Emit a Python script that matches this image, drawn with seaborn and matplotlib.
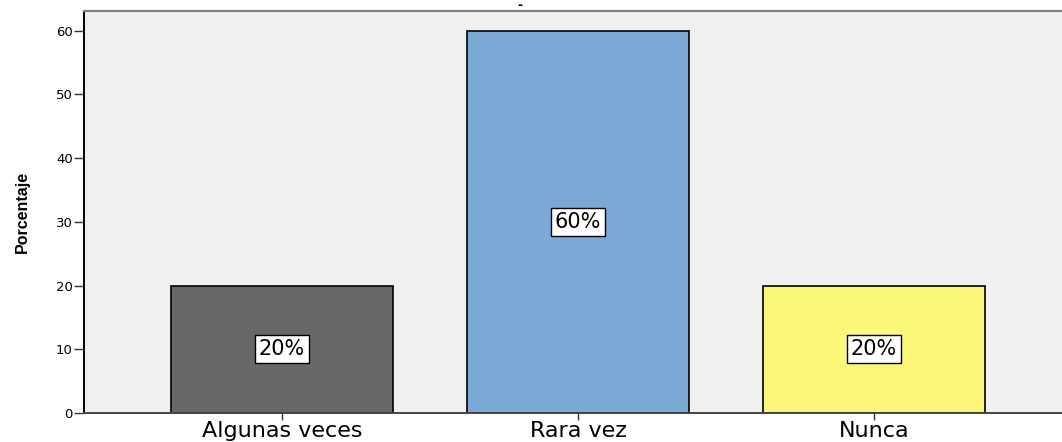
import matplotlib
matplotlib.use("Agg")
import matplotlib.pyplot as plt
import seaborn as sns
import pandas as pd

categories = ["Algunas veces", "Rara vez", "Nunca"]
percentages = [20, 60, 20]
bar_colors = ["#686868", "#7BA9D6", "#FBF778"]
y_ticks = [0, 10, 20, 30, 40, 50, 60]

df = pd.DataFrame({"categoria": categories, "porcentaje": percentages})

sns.set_style("white")
plt.rcParams["font.family"] = ["DejaVu Sans"]
plt.rcParams["text.color"] = "black"
plt.rcParams["axes.labelcolor"] = "black"
plt.rcParams["xtick.color"] = "black"
plt.rcParams["ytick.color"] = "black"

fig = plt.figure(figsize=(10.62, 4.42), dpi=100)
ax = fig.add_axes([84 / 1062, 29 / 442, 1 - 84 / 1062, 402 / 442])
ax.set_facecolor("#F0F0F0")

sns.barplot(data=df, x="categoria", y="porcentaje", hue="categoria",
            palette=bar_colors, order=categories, hue_order=categories,
            saturation=1, width=0.75, edgecolor="black", linewidth=1.2,
            legend=False, ax=ax)

for i, (cat, val) in enumerate(zip(categories, percentages)):
    ax.text(i, val / 2, f"{val}%", ha="center", va="center", fontsize=15,
            color="black",
            bbox=dict(boxstyle="square,pad=0.2", facecolor="white",
                      edgecolor="black", linewidth=1))

ax.set_xlim(-0.669, 2.635)
ax.set_ylim(0, 63.1)
ax.set_yticks(y_ticks)
ax.set_yticklabels([str(t) for t in y_ticks], fontsize=9.5)
ax.tick_params(axis="y", direction="out", length=7, width=1, color="#333333", pad=1, left=True)
ax.tick_params(axis="x", direction="out", length=5, width=1, color="#333333", pad=1, labelsize=16, bottom=True)

ax.set_xlabel("")
ax.set_ylabel("Porcentaje", fontsize=11.5, fontweight="bold",
              family=["Liberation Sans", "DejaVu Sans"], labelpad=19)

ax.spines["left"].set_color("black")
ax.spines["left"].set_linewidth(1.4)
ax.spines["bottom"].set_color("#444444")
ax.spines["bottom"].set_linewidth(1.4)
ax.spines["top"].set_color("#808080")
ax.spines["top"].set_linewidth(1.6)
ax.spines["right"].set_visible(False)

fig.text(520 / 1062, 1 - 6 / 442, "-", ha="center", va="center", fontsize=9, fontweight="bold")

fig.savefig("out.png", dpi=100)
